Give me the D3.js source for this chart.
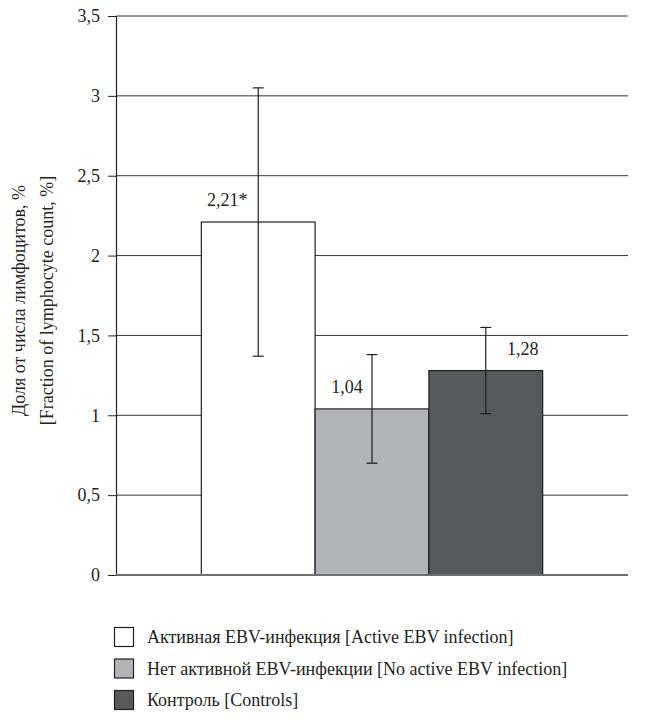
<!DOCTYPE html>
<html>
<head>
<meta charset="utf-8">
<script src="https://cdn.jsdelivr.net/npm/d3@7"></script>
</head>
<body style="margin:0;background:#fff">
<svg id="fig" width="648" height="721"></svg>
<script>
// Groups, means and error bounds
const groups = [
  "Активная EBV-инфекция [Active EBV infection]",
  "Нет активной EBV-инфекции [No active EBV infection]",
  "Контроль [Controls]"
];
const means = [2.21, 1.04, 1.28];
const errLow = [1.37, 0.70, 1.01];
const errHigh = [3.05, 1.38, 1.55];
const valueLabels = ["2,21*", "1,04", "1,28"];
const yTicks = [0, 0.5, 1, 1.5, 2, 2.5, 3, 3.5];
const yTickLabels = ["0", "0,5", "1", "1,5", "2", "2,5", "3", "3,5"];
const yTitle = ["Доля от числа лимфоцитов, %", "[Fraction of lymphocyte count, %]"];

const FONT = "'Liberation Serif', 'Times New Roman', Tinos, serif";
const FS = "18px";
const INK = "#231f20";
const fills = ["#ffffff", "#b2b3b6", "#58595b"];
const labelDx = [-31, -25, 37];

const svg = d3.select("#fig");
const plot = { left: 116, right: 628, top: 16, bottom: 575 };

const y = d3.scaleLinear().domain([0, 3.5]).range([plot.bottom, plot.top]);
const xOuter = d3.scaleBand().domain(["all"]).range([plot.left, plot.right]).paddingInner(0).paddingOuter(0.25);
const x = d3.scaleBand().domain(d3.range(groups.length))
  .range([xOuter("all"), xOuter("all") + xOuter.bandwidth()]).padding(0);

function serif(sel) {
  return sel.style("font-family", FONT)
    .style("font-size", FS)
    .attr("fill", INK);
}

// Horizontal gridlines
svg.append("g")
  .selectAll("line")
  .data(yTicks.filter(t => t > 0))
  .join("line")
  .attr("x1", plot.left).attr("x2", plot.right)
  .attr("y1", d => y(d)).attr("y2", d => y(d))
  .attr("stroke", "#333333").attr("stroke-width", 1);

// Y axis with tick labels
const yAxis = d3.axisLeft(y)
  .tickValues(yTicks)
  .tickFormat((d, i) => yTickLabels[i])
  .tickSize(8)
  .tickPadding(8);
const gy = svg.append("g").attr("transform", `translate(${plot.left},0)`).call(yAxis)
  .attr("font-family", null).attr("font-size", null);
gy.select(".domain").attr("stroke", INK).attr("stroke-width", 1.2);
gy.selectAll(".tick line").attr("stroke", INK);
serif(gy.selectAll(".tick text"));

// Bars
svg.append("g")
  .selectAll("rect")
  .data(means)
  .join("rect")
  .attr("x", (d, i) => x(i))
  .attr("y", d => y(d))
  .attr("width", x.bandwidth())
  .attr("height", d => y(0) - y(d))
  .attr("fill", (d, i) => fills[i])
  .attr("stroke", INK)
  .attr("stroke-width", 1.2);

// Baseline
svg.append("line")
  .attr("x1", plot.left).attr("x2", plot.right)
  .attr("y1", y(0)).attr("y2", y(0))
  .attr("stroke", "#6d6e71").attr("stroke-width", 2);

// Error bars
const eb = svg.append("g").attr("stroke", INK).attr("stroke-width", 1.2);
means.forEach((m, i) => {
  const cx = x(i) + x.bandwidth() / 2;
  eb.append("line").attr("x1", cx).attr("x2", cx).attr("y1", y(errLow[i])).attr("y2", y(errHigh[i]));
  eb.append("line").attr("x1", cx - 5.5).attr("x2", cx + 5.5).attr("y1", y(errLow[i])).attr("y2", y(errLow[i]));
  eb.append("line").attr("x1", cx - 5.5).attr("x2", cx + 5.5).attr("y1", y(errHigh[i])).attr("y2", y(errHigh[i]));
});

// Value labels
serif(svg.append("g")
  .selectAll("text")
  .data(means)
  .join("text")
  .attr("x", (d, i) => x(i) + x.bandwidth() / 2 + labelDx[i])
  .attr("y", d => y(d) - 16)
  .attr("text-anchor", "middle")
  .text((d, i) => valueLabels[i]));

// Y axis title
const title = serif(svg.append("text")
  .attr("transform", `translate(0,${(plot.top + plot.bottom) / 2 + 5}) rotate(-90)`)
  .attr("text-anchor", "middle"));
title.append("tspan").attr("x", 0).attr("y", 25).text(yTitle[0]);
title.append("tspan").attr("x", 0).attr("y", 53).text(yTitle[1]);

// Legend
const legend = svg.append("g");
groups.forEach((g, i) => {
  const ly = 627 + i * 31.5;
  legend.append("rect")
    .attr("x", 114.5).attr("y", ly + 0.5)
    .attr("width", 19).attr("height", 19)
    .attr("fill", fills[i]).attr("stroke", INK).attr("stroke-width", 1.2);
  serif(legend.append("text")
    .attr("x", 147).attr("y", ly + 16)
    .text(g));
});
</script>
</body>
</html>
